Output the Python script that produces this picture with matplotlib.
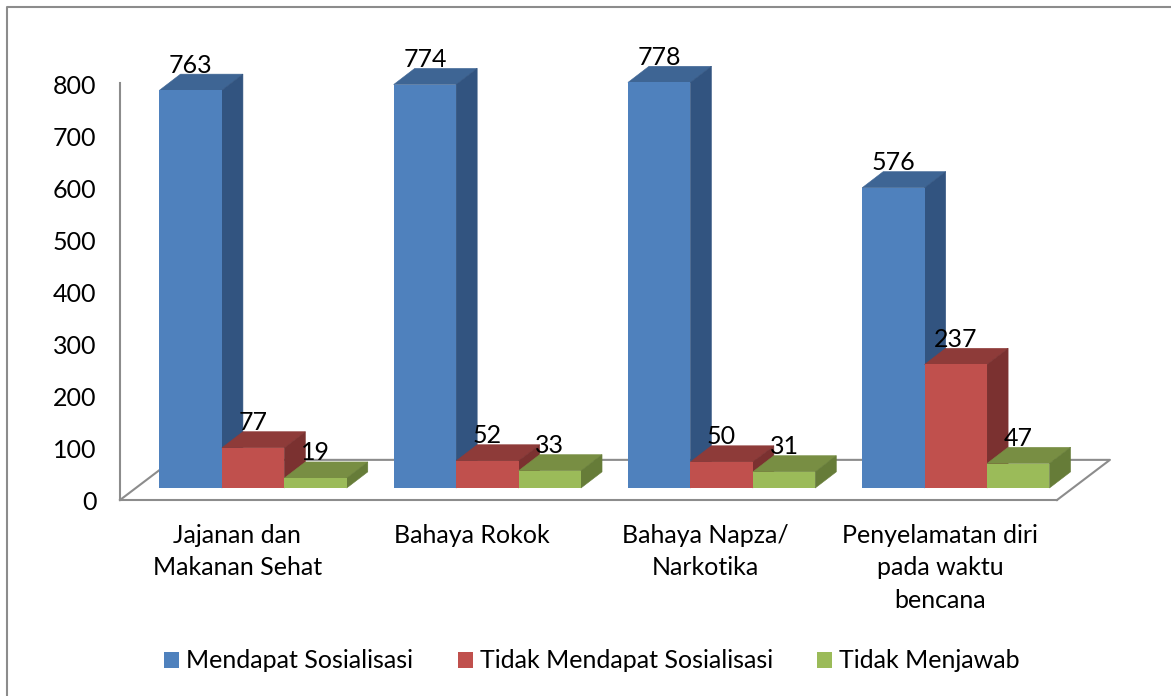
#!/usr/bin/env python3
"""Clustered bar chart drawn with a fake 3D look, like an Excel 3D column chart."""

import matplotlib
matplotlib.use('Agg')
import matplotlib.pyplot as plt
from matplotlib.lines import Line2D
from matplotlib.patches import Patch, Polygon
from matplotlib.transforms import ScaledTranslation

categories = ['Jajanan dan\nMakanan Sehat', 'Bahaya Rokok', 'Bahaya Napza/\nNarkotika',
              'Penyelamatan diri\npada waktu\nbencana']
series_names = ['Mendapat Sosialisasi', 'Tidak Mendapat Sosialisasi', 'Tidak Menjawab']
mendapat = [763, 774, 778, 576]
tidak_mendapat = [77, 52, 50, 237]
tidak_menjawab = [19, 33, 31, 47]
y_ticks = [0, 100, 200, 300, 400, 500, 600, 700, 800]

front_colors = ['#4F81BD', '#C0504D', '#9BBB59']
top_colors = ['#3E6594', '#8E3B39', '#788E43']
side_colors = ['#325480', '#7B3130', '#667C38']
GRAY = '#8C8C8C'

# 3D look, in data units (1 category = 234 px, 100 = 52 px)
BAR_W = 0.2665
SHIFT_X, SHIFT_Y = 0.068, 23
DEPTH_X, DEPTH_Y = 0.09, 31
FLOOR_X, FLOOR_Y = 0.226, 77

W, H = 1171, 696
plt.rcParams['font.family'] = ['Lato', 'DejaVu Sans']
plt.rcParams['font.size'] = 18

fig = plt.figure(figsize=(W / 100, H / 100), dpi=100)
ax = fig.add_axes([120 / W, (H - 500) / H, 937 / W, 417 / H])
ax.set_xlim(-0.5, 3.5)
ax.set_ylim(0, 800)

# only the left and top edges of the frame are in the picture
fig.add_artist(Line2D([7 / W, 7 / W, 1], [0, (H - 7) / H, (H - 7) / H], transform=fig.transFigure,
                      color=GRAY, linewidth=1.5))

for s in ['top', 'right']:
    ax.spines[s].set_visible(False)
for s in ['left', 'bottom']:
    ax.spines[s].set_color(GRAY)
    ax.spines[s].set_linewidth(1.5)

# floor outline
ax.plot([-0.5, -0.5 + FLOOR_X, 3.5 + FLOOR_X, 3.5],
        [0, FLOOR_Y, FLOOR_Y, 0], color=GRAY, linewidth=1.5, clip_on=False, zorder=1)

all_values = [mendapat, tidak_mendapat, tidak_menjawab]
for i in range(len(categories)):
    for j, values in enumerate(all_values):
        v = values[i]
        x0 = i - 1.5 * BAR_W + j * BAR_W + SHIFT_X
        x1 = x0 + BAR_W
        y0 = SHIFT_Y
        y1 = SHIFT_Y + v
        z = 2 + i * 3 + j
        ax.bar(x0, v, width=BAR_W, bottom=y0, align='edge', color=front_colors[j],
               clip_on=False, zorder=z + 0.2)
        ax.add_patch(Polygon([(x0, y1), (x1, y1), (x1 + DEPTH_X, y1 + DEPTH_Y), (x0 + DEPTH_X, y1 + DEPTH_Y)],
                             facecolor=top_colors[j], edgecolor=top_colors[j], linewidth=0.4,
                             clip_on=False, zorder=z))
        ax.add_patch(Polygon([(x1, y0), (x1 + DEPTH_X, y0 + DEPTH_Y), (x1 + DEPTH_X, y1 + DEPTH_Y), (x1, y1)],
                             facecolor=side_colors[j], edgecolor=side_colors[j], linewidth=0.4,
                             clip_on=False, zorder=z))
        ax.annotate(str(v), xy=(x0 + BAR_W / 2, y1 + DEPTH_Y), xytext=(0, 6.5),
                    textcoords='offset points', ha='center', va='center',
                    annotation_clip=False, zorder=50)

ax.set_yticks(y_ticks)
ax.set_xticks(range(len(categories)))
ax.set_xticklabels(categories, linespacing=1.5)
ax.tick_params(axis='both', length=0)
ax.tick_params(axis='y', pad=17)
ax.tick_params(axis='x', pad=17)

# y labels sit a pixel below their tick in the original
for label in ax.get_yticklabels():
    label.set_transform(label.get_transform() + ScaledTranslation(0, -1 / 100, fig.dpi_scale_trans))

handles = [Patch(facecolor=c, edgecolor='none') for c in front_colors]
fig.legend(handles, series_names, loc='center', bbox_to_anchor=(592 / W, (H - 661) / H), ncol=3,
           frameon=False, handlelength=0.6, handleheight=0.6, handletextpad=0.28, columnspacing=1.78)

fig.savefig('out.png', dpi=100)
